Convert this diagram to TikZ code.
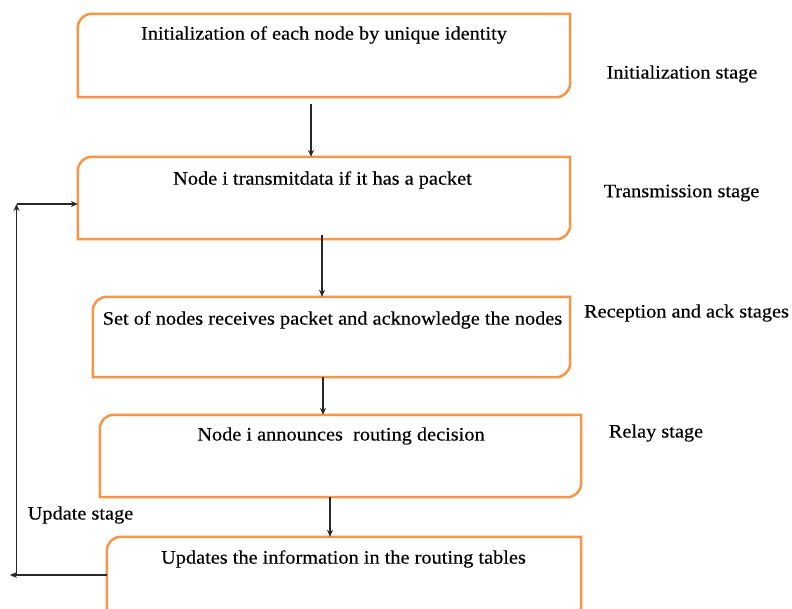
\documentclass[tikz,border=0pt]{standalone}
\usepackage{fontspec}
\setmainfont{Liberation Serif}[FakeStretch=1.07,FakeBold=0.3]
\usetikzlibrary{arrows.meta,calc}
\definecolor{boxorange}{RGB}{247,150,70}
\definecolor{arrowgray}{RGB}{40,40,40}
\tikzset{
  stagebox/.style={draw=none, inner sep=0pt, minimum width=#1},
  boxline/.style={draw=boxorange, line width=2.5pt},
  txt/.style={inner sep=0pt, font=\fontsize{19}{21}\selectfont},
  arr/.style={draw=arrowgray, line width=1.2pt, -{Stealth[length=7pt,width=6pt]}},
  plain/.style={draw=arrowgray, line width=1.2pt}
}
\newcommand{\diagbox}[1]{%
  \draw[boxline] (#1.south west) -- ([yshift=-14pt]#1.north west)
    arc[start angle=180,end angle=90,radius=14pt] -- (#1.north east)
    -- ([yshift=14pt]#1.south east)
    arc[start angle=0,end angle=-90,radius=14pt] -- cycle;}
\begin{document}
\begin{tikzpicture}[x=1pt,y=1pt]
\useasboundingbox (0,0) rectangle (792,608);
\clip (0,0) rectangle (792,608);
\fill[white] (0,0) rectangle (792,608);
% boxes
\node[stagebox=492pt, minimum height=83pt] (b1) at (324,552.5) {};
\node[stagebox=492pt, minimum height=82pt] (b2) at (324,410) {};
\node[stagebox=477pt, minimum height=80pt] (b3) at (331.5,271) {};
\node[stagebox=481pt, minimum height=82pt] (b4) at (340.5,152) {};
\node[stagebox=474pt, minimum height=83pt] (b5) at (344,29.5) {};
\diagbox{b1}\diagbox{b2}\diagbox{b3}\diagbox{b4}\diagbox{b5}
% box texts
\node[txt] (t1) at (324,573) {Initialization of each node by unique identity};
\node[txt] (t2) at (322.5,428) {Node i transmitdata if it has a packet};
\node[txt] (t3) at (332.5,288) {Set of nodes receives packet and acknowledge the nodes};
\node[txt] (t4) at (341,172) {Node i announces\ \ routing decision};
\node[txt] (t5) at (343.5,49) {Updates the information in the routing tables};
% stage labels
\node[txt] (l1) at (682,534) {Initialization stage};
\node[txt] (l2) at (681.5,415) {Transmission stage};
\node[txt] (l3) at (686.5,295) {Reception and ack stages};
\node[txt] (l4) at (656,175) {Relay stage};
\node[txt] (l5) at (80.5,93) {Update stage};
% connectors
\draw[arr] ([xshift=-13pt,yshift=-7pt]b1.south) -- ([xshift=-13pt]b2.north);
\draw[arr] ([xshift=-2pt,yshift=4pt]b2.south) -- ([xshift=-9.5pt]b3.north);
\draw[arr] ([xshift=-8.5pt]b3.south) -- ([xshift=-17.5pt]b4.north);
\draw[arr] ([xshift=-10.5pt]b4.south) -- ([xshift=-14pt]b5.north);
\coordinate (fbend) at (10,33);
\coordinate (fbot) at (16.5,33);
\coordinate (ftop) at (16.5,404);
\draw[arr] ([yshift=3.5pt]b5.west) -- (fbend);
\draw[arr] (fbot) -- (ftop);
\draw[arr] (ftop) -- ([yshift=-6pt]b2.west);
\end{tikzpicture}
\end{document}
